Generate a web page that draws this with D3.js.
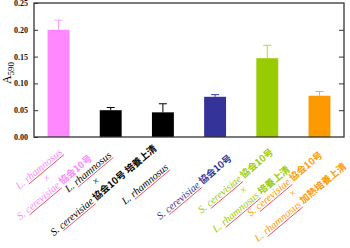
<!DOCTYPE html>
<head>
  <meta charset="utf-8">
  <script src="https://d3js.org/d3.v7.min.js"></script>
  <style>
    body{ margin: 0; background: #fff; }
    text{ font-family: "Liberation Serif", "Times New Roman", serif; }
    .tick text{ font-size: 8px; font-weight: 700; fill: #111; }
    .tick line{ stroke: #333; }
    path.domain{ display: none; }
    text.xlab{ font-size: 10.5px; }
    tspan.sp{ font-style: italic; }
    tspan.cjk{ font-family: "Noto Sans CJK JP", sans-serif; font-weight: 700; font-size: 9.5px; }
  </style>
</head>
<body>
<script>
  // data
  const categories = ['Lr x Sc', 'Lr x Sc sup', 'Lr', 'Sc', 'Sc x Lr sup', 'Sc x Lr heat sup'];
  const values = [0.200, 0.050, 0.046, 0.075, 0.147, 0.077];
  const errors = [0.018, 0.005, 0.016, 0.004, 0.024, 0.008];
  const colours = ['#ff88ff', '#000000', '#000000', '#333399', '#99cc00', '#ff9900'];
  const yTicks = [0, 0.05, 0.10, 0.15, 0.20, 0.25];
  const labels = [
    ['L. rhamnosus', '×', 'S. cerevisiae 協会10号'],
    ['L. rhamnosus', '×', 'S. cerevisiae 協会10号 培養上清'],
    ['L. rhamnosus'],
    ['S. cerevisiae 協会10号'],
    ['S. cerevisiae 協会10号', '×', 'L. rhamnosus 培養上清'],
    ['S. cerevisiae 協会10号', '×', 'L. rhamnosus 加熱培養上清']
  ];

  var width = 350, height = 248;
  const margin = {top: 3, right: 6, bottom: 111, left: 34};

  var svg = d3.select('body').append('svg')
    .attr('width', width)
    .attr('height', height);

  let x = d3.scaleBand()
    .domain(categories)
    .range([margin.left, width - margin.right])
    .paddingInner(0.58)
    .paddingOuter(0.26);

  let y = d3.scaleLinear()
    .domain([0, 0.25])
    .range([height - margin.bottom, margin.top]);

  // axes with inward ticks on both sides
  svg.append('g')
    .attr('transform', `translate(${margin.left},0)`)
    .call(d3.axisLeft(y).tickValues(yTicks).tickSize(-4).tickPadding(6).tickFormat(d3.format('.2f')));
  svg.append('g')
    .attr('transform', `translate(${width - margin.right},0)`)
    .call(d3.axisRight(y).tickValues(yTicks.slice(1, -1)).tickSize(-5).tickFormat(''));

  // bars
  svg.selectAll('rect.bar')
    .data(values)
    .enter()
    .append('rect')
    .attr('class', 'bar')
    .attr('x', (d, i) => x(categories[i]))
    .attr('width', x.bandwidth())
    .attr('y', d => y(d))
    .attr('height', d => y(0) - y(d))
    .style('fill', (d, i) => colours[i]);

  // error bars (upper only)
  let err = svg.selectAll('g.err')
    .data(values)
    .enter()
    .append('g')
    .attr('class', 'err')
    .style('stroke', (d, i) => d3.color(colours[i]).brighter(0.4))
    .style('stroke-width', 1);
  err.append('line')
    .attr('x1', (d, i) => x(categories[i]) + x.bandwidth() / 2)
    .attr('x2', (d, i) => x(categories[i]) + x.bandwidth() / 2)
    .attr('y1', d => y(d))
    .attr('y2', (d, i) => y(d + errors[i]));
  err.append('line')
    .attr('x1', (d, i) => x(categories[i]) + x.bandwidth() / 2 - 4)
    .attr('x2', (d, i) => x(categories[i]) + x.bandwidth() / 2 + 4)
    .attr('y1', (d, i) => y(d + errors[i]))
    .attr('y2', (d, i) => y(d + errors[i]));

  // frame
  svg.append('rect')
    .attr('x', margin.left)
    .attr('y', margin.top)
    .attr('width', width - margin.right - margin.left)
    .attr('height', y(0) - margin.top)
    .style('fill', 'none')
    .style('stroke', '#333')
    .style('stroke-width', 1.3);

  // y label
  let yl = svg.append('text')
    .attr('transform', `translate(11,${(y(0) + y(0.25)) / 2 + 3}) rotate(-90)`)
    .style('text-anchor', 'middle')
    .style('font-size', '12px');
  yl.append('tspan').text('A');
  yl.append('tspan').attr('dy', 3).style('font-size', '9px').text('590');

  // rotated category labels, species names underlined in red
  const lineGap = 12;
  labels.forEach((lines, i) => {
    // labels drift slightly right-down across the axis, as in the original layout
    let cx = x(categories[i]) + x.bandwidth() / 2 - 12 - 3 * i;
    let cy = y(0) + 41 + 3 * i;
    lines.forEach((ln, j) => {
      let ly = (j - (lines.length - 1) / 2) * lineGap + 3.5;
      let tf = `translate(${cx},${cy}) rotate(-40)`;
      let t = svg.append('text')
        .attr('class', 'xlab')
        .attr('transform', tf)
        .attr('y', ly)
        .style('text-anchor', 'middle')
        .style('fill', colours[i]);
      let parts = ln.split(/(L\. rhamnosus|S\. cerevisiae)/).filter(s => s.length);
      let spans = [];
      let pos = 0;
      parts.forEach(s => {
        let cls = /rhamnosus|cerevisiae/.test(s) ? 'sp' : (/[\u3000-\u9fff]/.test(s) ? 'cjk' : null);
        let ts = t.append('tspan').text(s);
        if (cls) ts.attr('class', cls);
        spans.push({s: s, start: pos, sp: cls == 'sp'});
        pos += s.length;
      });
      let node = t.node();
      let total = node.getComputedTextLength();
      spans.filter(p => p.sp).forEach(p => {
        // underline only the word after "L. " / "S. "
        let st = p.start + 3;
        let x0 = -total / 2 + node.getSubStringLength(0, st);
        let len = node.getSubStringLength(st, p.s.length - 3);
        svg.append('line')
          .attr('transform', tf)
          .attr('x1', x0).attr('x2', x0 + len)
          .attr('y1', ly + 1.8).attr('y2', ly + 1.8)
          .style('stroke', '#ee3344')
          .style('stroke-width', 0.8);
      });
    });
  });
</script>
</body>
